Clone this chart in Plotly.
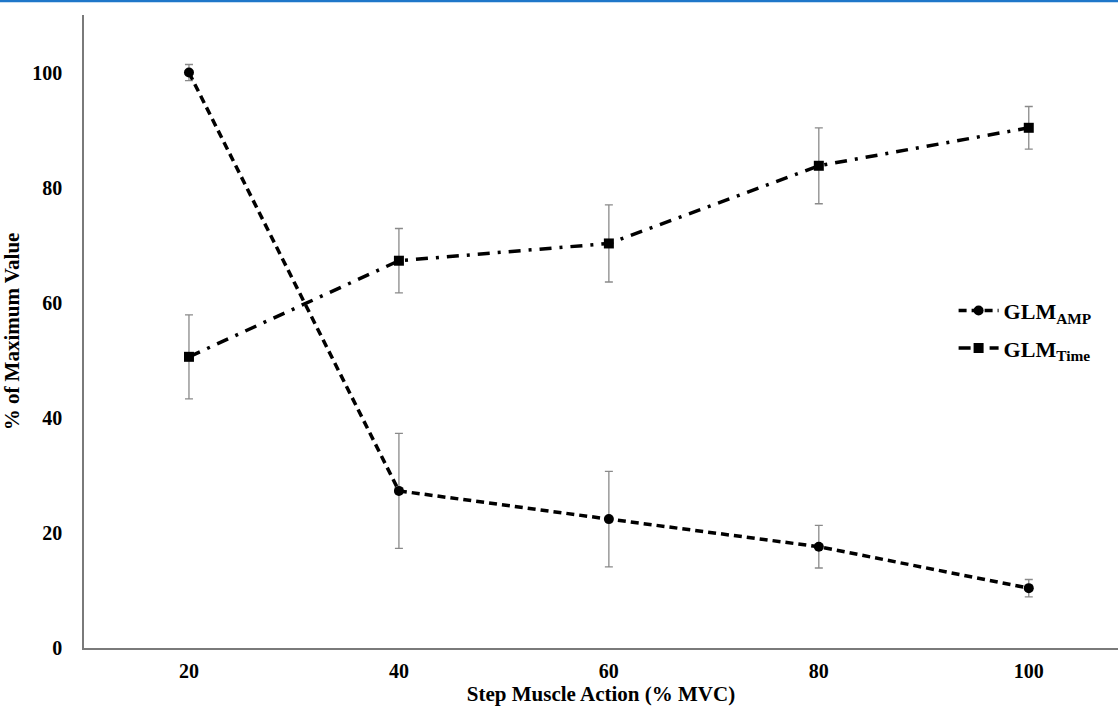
import plotly.graph_objects as go

# Step muscle action levels (% MVC)
mvc = [20, 40, 60, 80, 100]

# GLM amplitude, % of maximum value, with error bars
glm_amp = [100.0, 27.3, 22.4, 17.6, 10.4]
glm_amp_err = [1.4, 10.0, 8.3, 3.7, 1.5]

# GLM time, % of maximum value, with error bars
glm_time = [50.6, 67.3, 70.3, 83.8, 90.4]
glm_time_err = [7.3, 5.6, 6.7, 6.6, 3.7]

y_ticks = [0, 20, 40, 60, 80, 100]

FONT = "Liberation Serif"
ERR_COLOR = "#8a8a8a"

fig = go.Figure()

fig.add_trace(go.Scatter(
    x=mvc, y=glm_amp, name="<b>GLM<sub>AMP</sub></b>",
    legendgroup="amp",
    mode="lines+markers",
    line=dict(color="black", width=3.5, dash="8px,5px"),
    marker=dict(symbol="circle", size=10, color="black"),
    error_y=dict(type="data", array=glm_amp_err, visible=True,
                 color=ERR_COLOR, thickness=1.3, width=4),
))

fig.add_trace(go.Scatter(
    x=mvc, y=glm_time, name="<b>GLM<sub>Time</sub></b>",
    legendgroup="time",
    mode="lines+markers",
    line=dict(color="black", width=3.5, dash="12px,8px,3px,8px"),
    marker=dict(symbol="square", size=10, color="black"),
    error_y=dict(type="data", array=glm_time_err, visible=True,
                 color=ERR_COLOR, thickness=1.3, width=4),
))

fig.update_layout(
    width=1118, height=706,
    margin=dict(l=84, r=0, t=15, b=58),
    paper_bgcolor="white", plot_bgcolor="white",
    font=dict(family=FONT, color="black"),
    showlegend=True,
    legend=dict(
        x=0.841, y=0.566, xanchor="left", yanchor="top",
        font=dict(family=FONT, size=22, color="black"),
        bgcolor="rgba(0,0,0,0)",
        itemwidth=40,
        traceorder="grouped", tracegroupgap=6,
    ),
    xaxis=dict(
        range=[10, 108.5],
        tickmode="array", tickvals=mvc, ticktext=[f"<b>{v}</b>" for v in mvc],
        tickfont=dict(family=FONT, size=20, color="black"),
        showgrid=False, zeroline=False,
        showline=True, linecolor="#7a7a7a", linewidth=1.5,
        ticks="", ticklabelstandoff=4,
        title=dict(text="<b>Step Muscle Action (% MVC)</b>",
                   font=dict(family=FONT, size=21, color="black"),
                   standoff=6),
    ),
    yaxis=dict(
        range=[0, 110],
        tickmode="array", tickvals=y_ticks, ticktext=[f"<b>{v}</b>" for v in y_ticks],
        tickfont=dict(family=FONT, size=20, color="black"),
        showgrid=False, zeroline=False,
        showline=True, linecolor="#7a7a7a", linewidth=1.5,
        ticks="", ticklabelstandoff=16,
        title=dict(text="<b>% of Maximum Value</b>",
                   font=dict(family=FONT, size=21, color="black"),
                   standoff=12),
    ),
)

# thin blue rule along the top edge of the page
fig.add_shape(type="line", xref="paper", yref="paper",
              x0=-0.1, x1=1.0, y0=1 + 14 / 633, y1=1 + 14 / 633,
              line=dict(color="#1f77c9", width=2.5))

fig.write_html("out.html")
